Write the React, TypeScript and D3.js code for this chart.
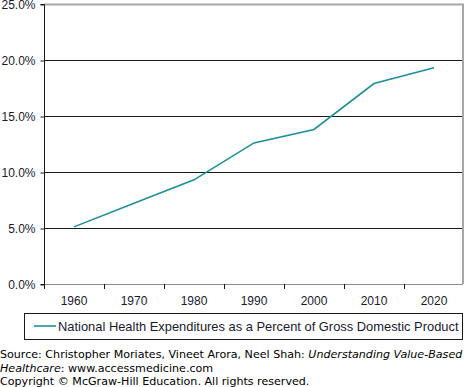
import * as d3 from 'd3';
import { useEffect, useRef } from 'react';

const years = ['1960', '1970', '1980', '1990', '2000', '2010', '2020'];
const nhePct = [5.1, 7.2, 9.3, 12.6, 13.8, 17.9, 19.3];
const yTicks = [0, 5, 10, 15, 20, 25];
const seriesName = 'National Health Expenditures as a Percent of Gross Domestic Product';

export default function App() {
  const ref = useRef<SVGSVGElement | null>(null);

  useEffect(() => {
    if (!ref.current) return;
    const width = 466;
    const height = 387;
    const left = 44;
    const right = 464;
    const top = 4;
    const bottom = 284;
    const chartFont = '"Liberation Sans", Arial, sans-serif';
    const srcFont = '"DejaVu Sans", Verdana, sans-serif';

    const svg = d3.select(ref.current).attr('viewBox', `0 0 ${width} ${height}`);
    svg.selectAll('*').remove();

    const x = d3.scaleBand().domain(years).range([left, right]);
    const y = d3.scaleLinear().domain([0, 25]).range([bottom, top]);

    // gridlines
    svg
      .selectAll('line.grid')
      .data(yTicks.filter((t) => t > 0 && t < 25))
      .enter()
      .append('line')
      .attr('x1', left)
      .attr('x2', right - 1)
      .attr('y1', (d) => y(d) + 0.5)
      .attr('y2', (d) => y(d) + 0.5)
      .attr('stroke', '#1a1a1a')
      .attr('stroke-width', 1);

    // top + right border (gray)
    svg
      .append('path')
      .attr('d', `M${left},${top + 0.5}H${right - 1}V${bottom}`)
      .attr('fill', 'none')
      .attr('stroke', '#a6a6a6')
      .attr('stroke-width', 2);

    // x axis line
    svg
      .append('line')
      .attr('x1', left)
      .attr('x2', right - 1)
      .attr('y1', bottom + 0.5)
      .attr('y2', bottom + 0.5)
      .attr('stroke', '#8c8c8c')
      .attr('stroke-width', 1);

    // y axis
    const yAxis = d3
      .axisLeft(y)
      .tickValues(yTicks)
      .tickSize(4)
      .tickPadding(5)
      .tickFormat((d) => `${(+d).toFixed(1)}%`);
    const gy = svg.append('g').attr('transform', `translate(${left + 0.5},0.5)`).call(yAxis);
    gy.select('.domain').attr('stroke', '#1a1a1a').attr('d', `M-4,${top}H0V${bottom}H-4`);
    gy.selectAll('line').attr('stroke', '#1a1a1a');
    gy.selectAll('text')
      .attr('font-family', chartFont)
      .attr('font-size', 12)
      .attr('fill', '#1a1a2e')
      .attr('x', -9);

    // x ticks between categories
    const boundaries = years.map((yr) => x(yr) as number).concat([right]);
    svg
      .selectAll('line.xtick')
      .data(boundaries.slice(0, -1))
      .enter()
      .append('line')
      .attr('x1', (d) => Math.round(d) + 0.5)
      .attr('x2', (d) => Math.round(d) + 0.5)
      .attr('y1', bottom)
      .attr('y2', bottom + 5)
      .attr('stroke', '#1a1a1a');

    svg
      .selectAll('text.xl')
      .data(years)
      .enter()
      .append('text')
      .attr('x', (d) => (x(d) as number) + x.bandwidth() / 2)
      .attr('y', 305)
      .attr('text-anchor', 'middle')
      .attr('font-family', chartFont)
      .attr('font-size', 12)
      .attr('fill', '#1a1a2e')
      .text((d) => d);

    // line
    const line = d3
      .line<number>()
      .x((_, i) => (x(years[i]) as number) + x.bandwidth() / 2)
      .y((d) => y(d));
    svg
      .append('path')
      .datum(nhePct)
      .attr('d', line)
      .attr('fill', 'none')
      .attr('stroke', '#1f8e9c')
      .attr('stroke-width', 1.6);

    // legend
    svg
      .append('rect')
      .attr('x', 24.5)
      .attr('y', 313.5)
      .attr('width', 438)
      .attr('height', 26)
      .attr('fill', 'none')
      .attr('stroke', '#1a1a1a');
    svg
      .append('line')
      .attr('x1', 34)
      .attr('x2', 56)
      .attr('y1', 326)
      .attr('y2', 326)
      .attr('stroke', '#1f8e9c')
      .attr('stroke-width', 1.6);
    svg
      .append('text')
      .attr('x', 58)
      .attr('y', 331)
      .attr('font-family', chartFont)
      .attr('font-size', 12.9)
      .attr('fill', '#1a1a2e')
      .text(seriesName);

    // source
    const src = svg
      .append('g')
      .attr('font-family', srcFont)
      .attr('font-size', 11.1)
      .attr('fill', '#000');
    const l1 = src.append('text').attr('x', 0).attr('y', 358);
    l1.append('tspan').text('Source: Christopher Moriates, Vineet Arora, Neel Shah: ');
    l1.append('tspan').attr('font-style', 'italic').text('Understanding Value-Based');
    const l2 = src.append('text').attr('x', 0).attr('y', 372);
    l2.append('tspan').attr('font-style', 'italic').text('Healthcare');
    l2.append('tspan').text(': www.accessmedicine.com');
    src
      .append('text')
      .attr('x', 0)
      .attr('y', 385)
      .text('Copyright © McGraw-Hill Education. All rights reserved.');
  }, []);

  return (
    <svg
      ref={ref}
      width={466}
      height={387}
      style={{ position: 'absolute', left: 0, top: 0, background: '#fff' }}
    />
  );
}
